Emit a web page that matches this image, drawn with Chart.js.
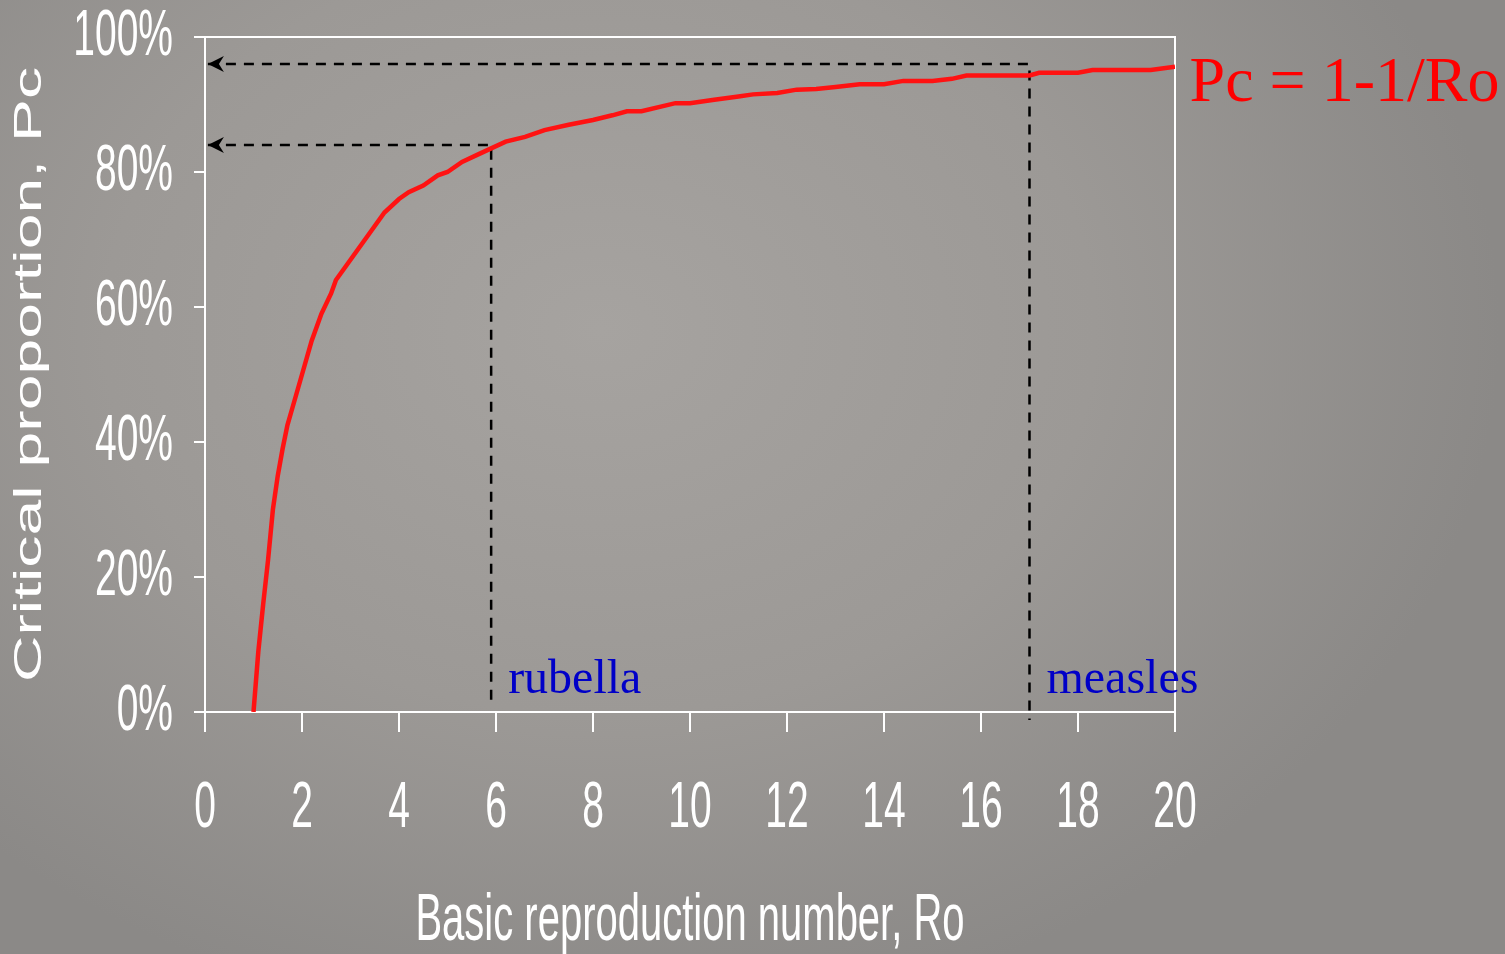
<!DOCTYPE html>
<html>
<head>
<meta charset="utf-8">
<script src="https://cdn.jsdelivr.net/npm/chart.js@4/dist/chart.umd.min.js"></script>
<style>
  html, body { margin: 0; padding: 0; }
  body {
    width: 1505px;
    height: 954px;
    overflow: hidden;
    background: radial-gradient(ellipse 900px 700px at 600px 330px, #a6a3a0 0%, #9c9996 55%, #8b8987 100%);
  }
  canvas { display: block; }
</style>
</head>
<body>
<canvas id="chartCanvas" width="1505" height="954"></canvas>
<script>
// curve: Ro -> critical proportion (%)
const roValues = [1.0, 1.1, 1.2, 1.3, 1.4, 1.5, 1.6, 1.7, 1.8, 2.0, 2.2, 2.4, 2.6, 2.7, 3.0, 3.4, 3.7, 4.0, 4.2, 4.5, 4.8, 5.0,
    5.3, 5.6, 5.9, 6.2, 6.6, 7.0, 7.5, 8.0, 8.4, 8.7, 9.0, 9.7, 10.0, 10.5, 11.0, 11.3, 11.8, 12.2, 12.6, 13.0, 13.5, 14.0,
    14.4, 15.0, 15.4, 15.7, 17.0, 17.2, 18.0, 18.3, 19.5, 20.0];
const pcValues = [0, 9, 16, 22.5, 30, 35, 39, 42.5, 45, 50, 55, 59, 62, 64, 67, 71, 74, 76, 77, 78, 79.5, 80,
    81.5, 82.5, 83.5, 84.5, 85.2, 86.2, 87, 87.7, 88.4, 89, 89, 90.2, 90.2, 90.7, 91.2, 91.5, 91.7, 92.2, 92.3, 92.6, 93, 93,
    93.5, 93.5, 93.8, 94.3, 94.3, 94.7, 94.7, 95.1, 95.1, 95.6];

const xTicks = [0, 2, 4, 6, 8, 10, 12, 14, 16, 18, 20];
const yTicks = [0, 20, 40, 60, 80, 100];

// dashed guides: disease, Ro, Pc, where the vertical dash stops, label spot
const diseases = ['rubella', 'measles'];
const diseaseRo = [5.9, 17.0];
const diseasePc = [84, 96];
const guideEnd = [1.3, -1.2];
const arrowTipRo = 0.06;
const labelRo = [6.25, 17.35];
const labelPc = [2.8, 2.8];

const formulaText = 'Pc = 1-1/Ro';
const formulaRo = 20.3;
const formulaPc = 90.5;

const STRETCH = 1.65;

// the slide text is stretched vertically, do the same to chart.js text
function stretchMethod(scale, name) {
    const orig = scale[name];
    scale[name] = function(...args) {
        const ctx = this.ctx;
        const translate = ctx.translate;
        ctx.translate = function(x, y) {
            translate.call(ctx, x, y);
            ctx.scale(1, STRETCH);
        };
        orig.apply(this, args);
        delete ctx.translate;
    };
}

const stretchPlugin = {
    id: 'stretchText',
    beforeDraw(chart) {
        ['x', 'y'].forEach(id => {
            const s = chart.scales[id];
            if (!s._stretched) {
                stretchMethod(s, 'drawLabels');
                stretchMethod(s, 'drawTitle');
                s._stretched = true;
            }
        });
    }
};

const framePlugin = {
    id: 'frame',
    beforeDatasetsDraw(chart) {
        const ctx = chart.ctx;
        const a = chart.chartArea;
        ctx.save();
        ctx.strokeStyle = '#ffffff';
        ctx.lineWidth = 2;
        ctx.beginPath();
        ctx.moveTo(a.left, a.top);
        ctx.lineTo(a.right, a.top);
        ctx.lineTo(a.right, a.bottom);
        ctx.stroke();
        ctx.restore();
    },
    afterDatasetsDraw(chart) {
        const ctx = chart.ctx;
        const x = chart.scales.x;
        const y = chart.scales.y;
        ctx.save();
        // arrow heads on the horizontal guides
        ctx.fillStyle = '#000000';
        for (let i = 1; i <= diseases.length; i++) {
            const tip = chart.getDatasetMeta(i).data[0];
            ctx.beginPath();
            ctx.moveTo(tip.x, tip.y);
            ctx.lineTo(tip.x + 16, tip.y - 8);
            ctx.lineTo(tip.x + 11, tip.y);
            ctx.lineTo(tip.x + 16, tip.y + 8);
            ctx.closePath();
            ctx.fill();
        }
        ctx.textAlign = 'left';
        ctx.textBaseline = 'alphabetic';
        ctx.fillStyle = '#0000c8';
        ctx.font = '48px "Liberation Serif", "Times New Roman", serif';
        diseases.forEach((name, i) => {
            ctx.fillText(name, x.getPixelForValue(labelRo[i]), y.getPixelForValue(labelPc[i]));
        });
        ctx.fillStyle = '#ff0000';
        ctx.font = '64px "Liberation Serif", "Times New Roman", serif';
        ctx.fillText(formulaText, x.getPixelForValue(formulaRo), y.getPixelForValue(formulaPc));
        ctx.restore();
    }
};

const guideSets = diseases.map((name, i) => ({
    label: name,
    data: [
        { x: arrowTipRo, y: diseasePc[i] },
        { x: diseaseRo[i], y: diseasePc[i] },
        { x: diseaseRo[i], y: guideEnd[i] }
    ],
    showLine: true,
    borderColor: '#000000',
    borderWidth: 2.5,
    borderDash: [10, 8],
    pointRadius: 0,
    clip: false
}));

const tickFont = { family: '"Liberation Sans", Arial, sans-serif', size: 39 };

const chart = new Chart(document.getElementById('chartCanvas'), {
    type: 'scatter',
    data: {
        datasets: [{
            label: 'Pc',
            data: roValues.map((r, i) => ({ x: r, y: pcValues[i] })),
            showLine: true,
            borderColor: 'rgb(255, 18, 18)',
            borderWidth: 4.5,
            pointRadius: 0,
            tension: 0
        }].concat(guideSets)
    },
    options: {
        responsive: false,
        animation: false,
        layout: { padding: { top: 37, right: 330, left: 0, bottom: 0 } },
        plugins: {
            legend: { display: false },
            tooltip: { enabled: false }
        },
        scales: {
            x: {
                type: 'linear',
                min: 0,
                max: 20,
                afterBuildTicks: scale => { scale.ticks = xTicks.map(v => ({ value: v })); },
                afterFit: scale => {
                    scale.height = 242;
                    scale.paddingLeft = 0;
                    scale.paddingRight = 0;
                },
                border: { color: '#ffffff', width: 2 },
                grid: { drawOnChartArea: false, drawTicks: true, tickLength: 20, color: '#ffffff', lineWidth: 2 },
                ticks: { color: '#ffffff', font: tickFont, padding: 39, autoSkip: false, maxRotation: 0 },
                title: {
                    display: true,
                    text: 'Basic reproduction number, Ro',
                    color: '#ffffff',
                    font: { family: '"Liberation Sans", Arial, sans-serif', size: 40 },
                    padding: { top: 0, bottom: 8 }
                }
            },
            y: {
                type: 'linear',
                min: 0,
                max: 100,
                afterBuildTicks: scale => { scale.ticks = yTicks.map(v => ({ value: v })); },
                afterFit: scale => {
                    scale.width = 205;
                    scale.paddingTop = 0;
                    scale.paddingBottom = 0;
                },
                border: { color: '#ffffff', width: 2 },
                grid: { drawOnChartArea: false, drawTicks: true, tickLength: 11, color: '#ffffff', lineWidth: 2 },
                ticks: { color: '#ffffff', font: tickFont, padding: 21, callback: v => v + '%' },
                title: {
                    display: true,
                    text: 'Critical proportion, Pc',
                    color: '#ffffff',
                    font: { family: '"Liberation Sans", Arial, sans-serif', size: 39 },
                    padding: { top: 7, bottom: 0 }
                }
            }
        }
    },
    plugins: [stretchPlugin, framePlugin]
});
</script>
</body>
</html>
